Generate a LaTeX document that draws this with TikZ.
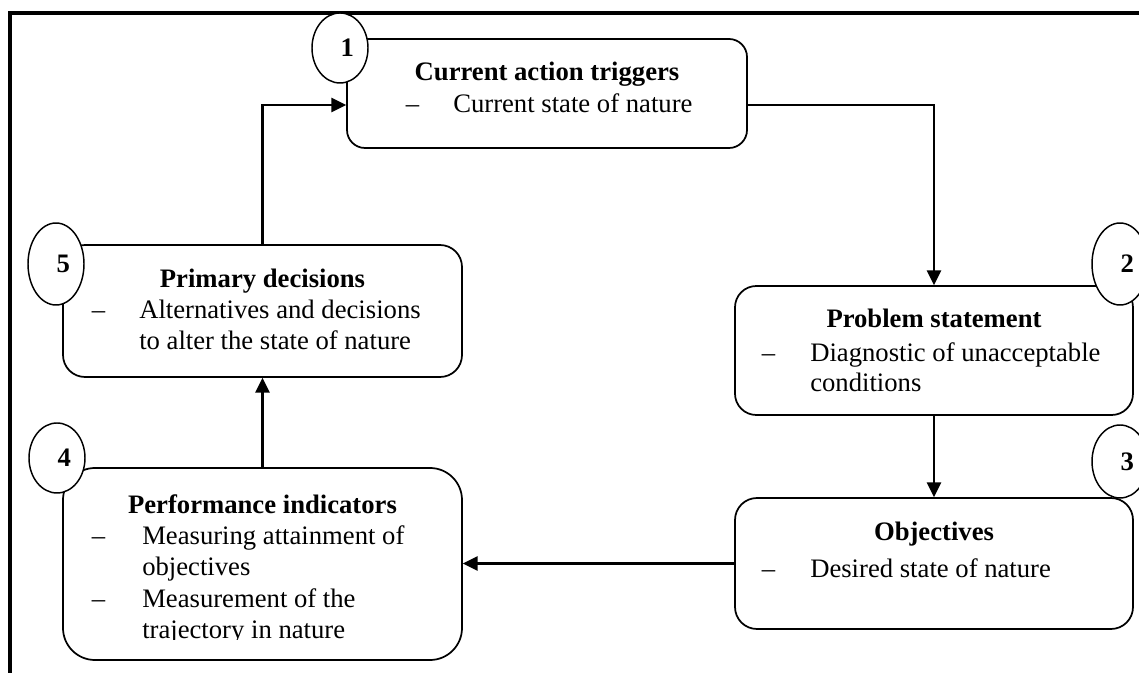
\documentclass[tikz,border=0pt]{standalone}
\usepackage{fontspec}
\setmainfont{Liberation Serif}
\usetikzlibrary{arrows.meta,fit,shapes.geometric}
\begin{document}
\begin{tikzpicture}[x=0.75pt,y=-0.75pt,
  box/.style={draw,line width=1.3pt,inner sep=0pt},
  numell/.style={ellipse,draw,fill=white,line width=1.1pt,minimum width=42pt,inner sep=0pt,font=\fontsize{20}{23}\selectfont\bfseries},
  ttl/.style={anchor=base,inner sep=0pt,font=\fontsize{20}{23}\selectfont\bfseries},
  txt/.style={anchor=base west,inner sep=0pt,font=\fontsize{20}{23}\selectfont},
  conn/.style={line width=1.6pt},
  arr/.style={conn,-{Triangle[length=11pt,width=10.5pt]}},
]
\clip (0,0) rectangle (1139,673);
\draw[line width=2.6pt] (10,700) -- (10,13) -- (1160,13);

% boxes
\node[box,rounded corners=13.5pt,fit={(347,39) (747,148)}] (b1) {};
\node[box,rounded corners=16pt,fit={(735,286) (1133,415)}] (b2) {};
\node[box,rounded corners=16.5pt,fit={(735,498) (1133,629)}] (b3) {};
\node[box,rounded corners=24pt,fit={(63,468) (462,660)}] (b4) {};
\node[box,rounded corners=16.5pt,fit={(63,245) (462,377)}] (b5) {};

% connectors
\draw[arr] (b5.north) |- (b1.west |- 0,105);
\draw[arr] (b1.east |- 0,105) -| (b2.north);
\draw[arr] (b2.south) -- (b3.north);
\draw[arr] (b3.west) -- (b3.west -| b4.east);
\draw[arr] (b4.north) -- (b5.south);

% number ellipses
\node[numell,minimum height=52.5pt] (e1) at (340,48) {\hspace*{11pt}1};
\node[numell,minimum height=61.5pt] (e2) at (1120,264) {\hspace*{11pt}2};
\node[numell,minimum height=54.75pt] (e3) at (1120,461.5) {\hspace*{11pt}3};
\node[numell,minimum height=52.5pt] (e4) at (57,458) {\hspace*{11pt}4};
\node[numell,minimum height=61.5pt] (e5) at (56,264) {\hspace*{11pt}5};

% box 1 text
\node[ttl] (t1) at (547,81) {Current action triggers};
\node[txt] (d1) at (405.5,113) {–};
\node[txt] (l1) at (453,113) {Current state of nature};

% box 2 text
\node[ttl] (t2) at (934,328) {Problem statement};
\node[txt] (d2) at (761.5,362) {–};
\node[txt] (l2a) at (810,362) {Diagnostic of unacceptable};
\node[txt] (l2b) at (810,392) {conditions};

% box 3 text
\node[ttl] (t3) at (934,540) {Objectives};
\node[txt] (d3) at (761.5,577) {–};
\node[txt] (l3) at (810,577) {Desired state of nature};

% box 4 text
\node[ttl] (t4) at (262.5,513) {Performance indicators};
\node[txt] (d4a) at (91.5,544) {–};
\node[txt] (l4a) at (142,544) {Measuring attainment of};
\node[txt] (l4b) at (142,575) {objectives};
\node[txt] (d4b) at (91.5,607) {–};
\node[txt] (l4c) at (142,607) {Measurement of the};
\begin{scope}
\clip (0,0) rectangle (1139,639);
\node[txt] (l4d) at (142,638) {trajectory in nature};
\end{scope}

% box 5 text
\node[ttl] (t5) at (262.5,288) {Primary decisions};
\node[txt] (d5) at (91.5,319) {–};
\node[txt] (l5a) at (139,319) {Alternatives and decisions};
\node[txt] (l5b) at (139,350) {to alter the state of nature};
\end{tikzpicture}
\end{document}
